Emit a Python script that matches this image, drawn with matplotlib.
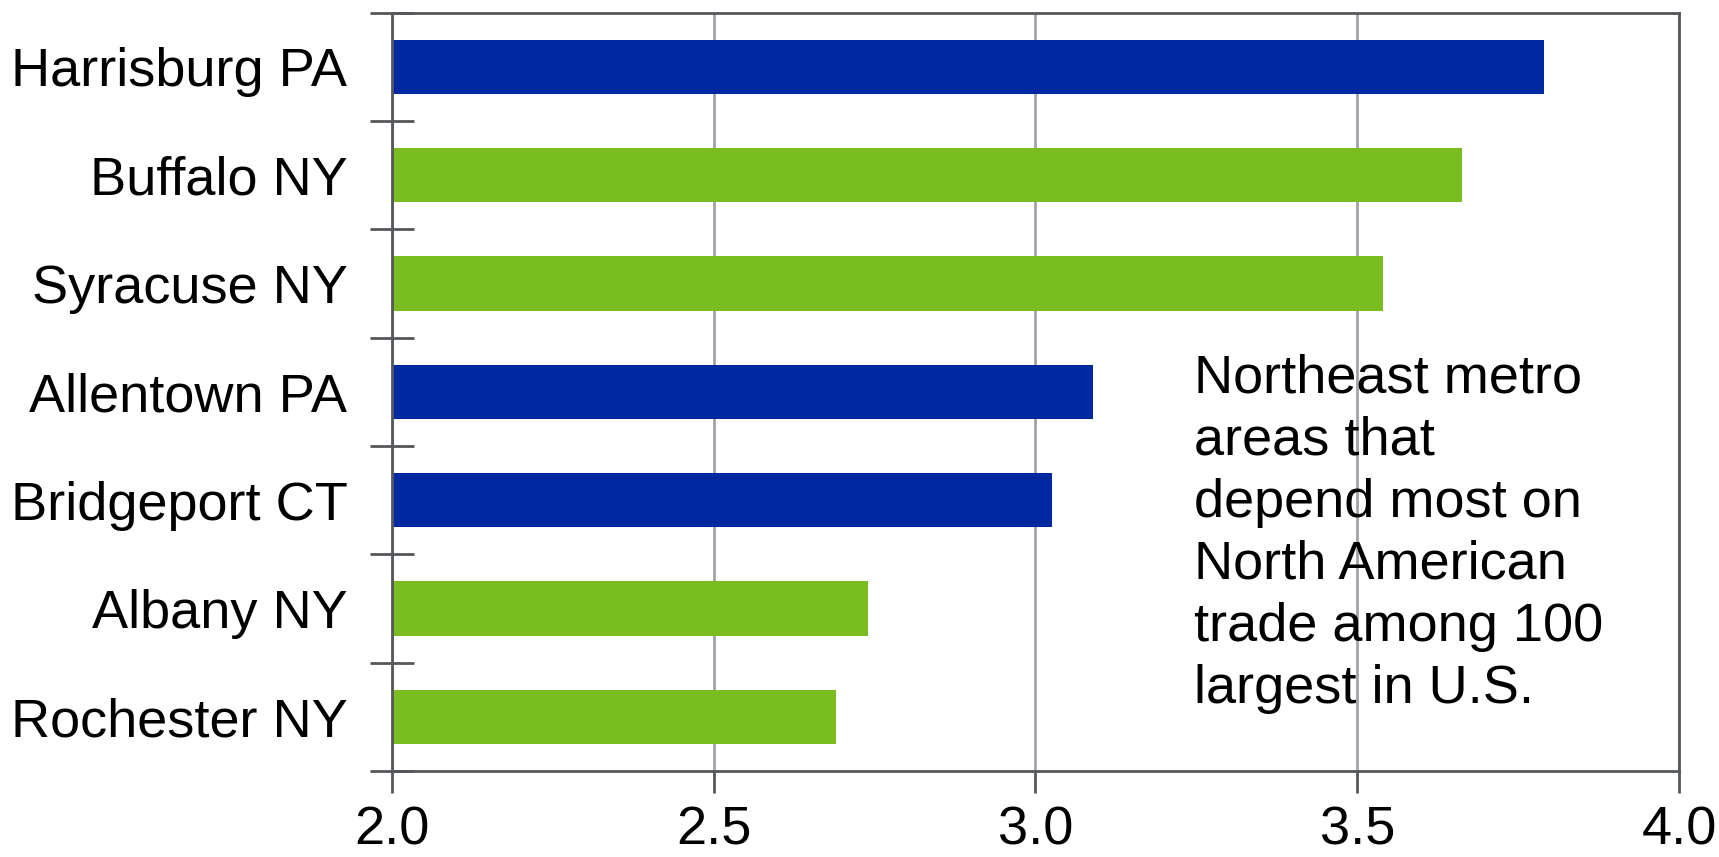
import numpy as np
import matplotlib.pyplot as plt

plt.rcParams['font.family'] = ['Liberation Sans', 'DejaVu Sans']

# data, top to bottom
metros = ['Harrisburg PA', 'Buffalo NY', 'Syracuse NY', 'Allentown PA',
          'Bridgeport CT', 'Albany NY', 'Rochester NY']
values = [3.79, 3.663, 3.54, 3.09, 3.025, 2.74, 2.69]
states = ['PA', 'NY', 'NY', 'PA', 'CT', 'NY', 'NY']
xticks = [2.0, 2.5, 3.0, 3.5, 4.0]
note = ('Northeast metro\nareas that\ndepend most on\n'
        'North American\ntrade among 100\nlargest in U.S.')

blue = '#0028a0'
green = '#7abd20'
spine_col = '#54585c'
grid_col = '#a0a4a8'

fig = plt.figure(figsize=(17.19, 8.57), dpi=100)
ax = fig.add_axes([0.228, 0.1003, 0.7487, 0.8851])

y = np.arange(len(metros))
colors = [green if s == 'NY' else blue for s in states]
ax.barh(y, [v - 2.0 for v in values], left=2.0, height=0.5, color=colors, zorder=2)

ax.set_xlim(2.0, 4.0)
ax.set_ylim(len(metros) - 0.5, -0.5)
ax.set_xticks(xticks)
ax.set_xticklabels(['%.1f' % t for t in xticks])
ax.set_yticks(y)
ax.set_yticklabels(metros)
ax.set_yticks(np.arange(len(metros) + 1) - 0.5, minor=True)

ax.xaxis.grid(True, color=grid_col, linewidth=2, zorder=0)
ax.set_axisbelow(True)

for s in ax.spines.values():
    s.set_color(spine_col)
    s.set_linewidth(2)

ax.tick_params(axis='x', direction='out', length=16, width=2, color=spine_col,
               labelsize=39, pad=9)
ax.tick_params(axis='y', which='major', length=0, labelsize=39, pad=32)
ax.tick_params(axis='y', which='minor', direction='inout', length=32, width=2,
               color=spine_col)

ax.text(3.247, 4.31, note, fontsize=39, ha='left', va='center', linespacing=1.31,
        color='black')

fig.savefig('out.png', dpi=100)
